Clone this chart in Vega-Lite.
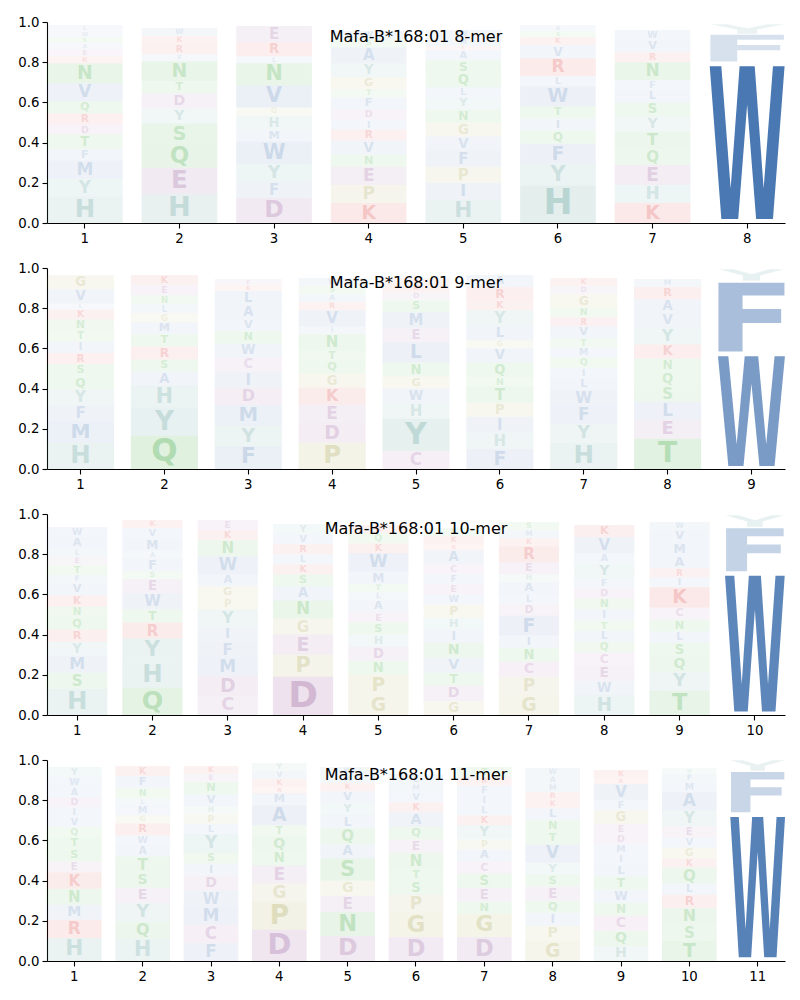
{
"$schema": "https://vega.github.io/schema/vega-lite/v6.json",
"padding": {"left": 17, "top": 15, "right": 5, "bottom": 5},
"config": {
 "view": {"stroke": null},
 "font": "DejaVu Sans",
 "axis": {"domainColor": "#000", "tickColor": "#000", "labelColor": "#000", "labelFont": "DejaVu Sans", "labelFontSize": 13.3, "tickSize": 5, "labelPadding": 3, "grid": false, "title": null, "domainWidth": 1.1, "tickWidth": 1.1},
 "title": {"font": "DejaVu Sans", "fontSize": 16, "fontWeight": "normal", "color": "#000", "anchor": "middle", "frame": "group", "offset": -30, "baseline": "bottom"},
 "scale": {"bandPaddingInner": 0.2, "bandPaddingOuter": 0}
},
"resolve": {"scale": {"shape": "independent", "size": "independent", "opacity": "independent", "x": "independent", "y": "independent"}},
"datasets": {
"k8": [
{"p":1,"a":"H","h":0.13,"r":1},{"p":1,"a":"Y","h":0.09,"r":2},{"p":1,"a":"M","h":0.09,"r":3},{"p":1,"a":"F","h":0.06,"r":4},{"p":1,"a":"T","h":0.07,"r":5},{"p":1,"a":"D","h":0.05,"r":6},{"p":1,"a":"R","h":0.055,"r":7},{"p":1,"a":"Q","h":0.06,"r":8},{"p":1,"a":"V","h":0.09,"r":9},{"p":1,"a":"N","h":0.10,"r":10},{"p":1,"a":"K","h":0.035,"r":11},{"p":1,"a":"E","h":0.035,"r":12},{"p":1,"a":"A","h":0.03,"r":13},{"p":1,"a":"S","h":0.03,"r":14},{"p":1,"a":"W","h":0.03,"r":15},{"p":1,"a":"L","h":0.03,"r":16},
{"p":2,"a":"H","h":0.145,"r":1},{"p":2,"a":"E","h":0.13,"r":2},{"p":2,"a":"Q","h":0.12,"r":3},{"p":2,"a":"S","h":0.10,"r":4},{"p":2,"a":"Y","h":0.075,"r":5},{"p":2,"a":"D","h":0.075,"r":6},{"p":2,"a":"T","h":0.06,"r":7},{"p":2,"a":"N","h":0.10,"r":8},{"p":2,"a":"F","h":0.035,"r":9},{"p":2,"a":"R","h":0.05,"r":10},{"p":2,"a":"K","h":0.04,"r":11},{"p":2,"a":"W","h":0.04,"r":12},
{"p":3,"a":"D","h":0.125,"r":1},{"p":3,"a":"F","h":0.08,"r":2},{"p":3,"a":"Y","h":0.09,"r":3},{"p":3,"a":"W","h":0.11,"r":4},{"p":3,"a":"M","h":0.06,"r":5},{"p":3,"a":"H","h":0.07,"r":6},{"p":3,"a":"G","h":0.04,"r":7},{"p":3,"a":"V","h":0.11,"r":8},{"p":3,"a":"N","h":0.11,"r":9},{"p":3,"a":"L","h":0.035,"r":10},{"p":3,"a":"R","h":0.07,"r":11},{"p":3,"a":"E","h":0.08,"r":12},
{"p":4,"a":"K","h":0.10,"r":1},{"p":4,"a":"P","h":0.09,"r":2},{"p":4,"a":"E","h":0.09,"r":3},{"p":4,"a":"N","h":0.06,"r":4},{"p":4,"a":"V","h":0.07,"r":5},{"p":4,"a":"R","h":0.055,"r":6},{"p":4,"a":"I","h":0.05,"r":7},{"p":4,"a":"D","h":0.05,"r":8},{"p":4,"a":"F","h":0.06,"r":9},{"p":4,"a":"T","h":0.04,"r":10},{"p":4,"a":"G","h":0.06,"r":11},{"p":4,"a":"Y","h":0.07,"r":12},{"p":4,"a":"A","h":0.08,"r":13},{"p":4,"a":"S","h":0.04,"r":14},{"p":4,"a":"W","h":0.04,"r":15},
{"p":5,"a":"H","h":0.115,"r":1},{"p":5,"a":"I","h":0.085,"r":2},{"p":5,"a":"P","h":0.08,"r":3},{"p":5,"a":"F","h":0.08,"r":4},{"p":5,"a":"V","h":0.07,"r":5},{"p":5,"a":"G","h":0.07,"r":6},{"p":5,"a":"N","h":0.065,"r":7},{"p":5,"a":"Y","h":0.06,"r":8},{"p":5,"a":"L","h":0.05,"r":9},{"p":5,"a":"Q","h":0.07,"r":10},{"p":5,"a":"S","h":0.065,"r":11},{"p":5,"a":"A","h":0.05,"r":12},{"p":5,"a":"R","h":0.02,"r":13},{"p":5,"a":"M","h":0.04,"r":14},{"p":5,"a":"W","h":0.04,"r":15},
{"p":6,"a":"H","h":0.185,"r":1},{"p":6,"a":"Y","h":0.11,"r":2},{"p":6,"a":"F","h":0.10,"r":3},{"p":6,"a":"Q","h":0.065,"r":4},{"p":6,"a":"I","h":0.06,"r":5},{"p":6,"a":"T","h":0.06,"r":6},{"p":6,"a":"W","h":0.10,"r":7},{"p":6,"a":"L","h":0.05,"r":8},{"p":6,"a":"R","h":0.09,"r":9},{"p":6,"a":"V","h":0.065,"r":10},{"p":6,"a":"K","h":0.04,"r":11},{"p":6,"a":"S","h":0.03,"r":12},{"p":6,"a":"A","h":0.03,"r":13},
{"p":7,"a":"K","h":0.10,"r":1},{"p":7,"a":"H","h":0.09,"r":2},{"p":7,"a":"E","h":0.10,"r":3},{"p":7,"a":"Q","h":0.08,"r":4},{"p":7,"a":"T","h":0.085,"r":5},{"p":7,"a":"Y","h":0.075,"r":6},{"p":7,"a":"S","h":0.07,"r":7},{"p":7,"a":"L","h":0.06,"r":8},{"p":7,"a":"F","h":0.05,"r":9},{"p":7,"a":"N","h":0.09,"r":10},{"p":7,"a":"R","h":0.05,"r":11},{"p":7,"a":"V","h":0.06,"r":12},{"p":7,"a":"W","h":0.05,"r":13},
{"p":8,"a":"W","h":0.80,"r":1},{"p":8,"a":"F","h":0.14,"r":2},{"p":8,"a":"Y","h":0.05,"r":3}
],
"k9": [
{"p":1,"a":"H","h":0.13,"r":1},{"p":1,"a":"M","h":0.107,"r":2},{"p":1,"a":"F","h":0.08,"r":3},{"p":1,"a":"Y","h":0.08,"r":4},{"p":1,"a":"Q","h":0.065,"r":5},{"p":1,"a":"S","h":0.06,"r":6},{"p":1,"a":"R","h":0.055,"r":7},{"p":1,"a":"I","h":0.057,"r":8},{"p":1,"a":"T","h":0.053,"r":9},{"p":1,"a":"N","h":0.057,"r":10},{"p":1,"a":"K","h":0.05,"r":11},{"p":1,"a":"L","h":0.03,"r":12},{"p":1,"a":"V","h":0.07,"r":13},{"p":1,"a":"G","h":0.07,"r":14},
{"p":2,"a":"Q","h":0.165,"r":1},{"p":2,"a":"Y","h":0.14,"r":2},{"p":2,"a":"H","h":0.11,"r":3},{"p":2,"a":"A","h":0.07,"r":4},{"p":2,"a":"S","h":0.06,"r":5},{"p":2,"a":"R","h":0.065,"r":6},{"p":2,"a":"T","h":0.06,"r":7},{"p":2,"a":"M","h":0.06,"r":8},{"p":2,"a":"G","h":0.045,"r":9},{"p":2,"a":"L","h":0.045,"r":10},{"p":2,"a":"N","h":0.045,"r":11},{"p":2,"a":"E","h":0.05,"r":12},{"p":2,"a":"K","h":0.05,"r":13},
{"p":3,"a":"F","h":0.115,"r":1},{"p":3,"a":"Y","h":0.10,"r":2},{"p":3,"a":"M","h":0.105,"r":3},{"p":3,"a":"D","h":0.085,"r":4},{"p":3,"a":"I","h":0.08,"r":5},{"p":3,"a":"C","h":0.07,"r":6},{"p":3,"a":"W","h":0.07,"r":7},{"p":3,"a":"N","h":0.06,"r":8},{"p":3,"a":"V","h":0.06,"r":9},{"p":3,"a":"A","h":0.07,"r":10},{"p":3,"a":"L","h":0.07,"r":11},{"p":3,"a":"K","h":0.03,"r":12},{"p":3,"a":"E","h":0.03,"r":13},
{"p":4,"a":"P","h":0.13,"r":1},{"p":4,"a":"D","h":0.10,"r":2},{"p":4,"a":"E","h":0.09,"r":3},{"p":4,"a":"K","h":0.085,"r":4},{"p":4,"a":"G","h":0.07,"r":5},{"p":4,"a":"Q","h":0.06,"r":6},{"p":4,"a":"T","h":0.055,"r":7},{"p":4,"a":"N","h":0.08,"r":8},{"p":4,"a":"I","h":0.04,"r":9},{"p":4,"a":"V","h":0.08,"r":10},{"p":4,"a":"R","h":0.04,"r":11},{"p":4,"a":"A","h":0.04,"r":12},{"p":4,"a":"S","h":0.04,"r":13},{"p":4,"a":"W","h":0.04,"r":14},
{"p":5,"a":"C","h":0.09,"r":1},{"p":5,"a":"Y","h":0.16,"r":2},{"p":5,"a":"H","h":0.08,"r":3},{"p":5,"a":"W","h":0.07,"r":4},{"p":5,"a":"G","h":0.06,"r":5},{"p":5,"a":"N","h":0.07,"r":6},{"p":5,"a":"L","h":0.10,"r":7},{"p":5,"a":"E","h":0.07,"r":8},{"p":5,"a":"M","h":0.08,"r":9},{"p":5,"a":"S","h":0.06,"r":10},{"p":5,"a":"D","h":0.04,"r":11},{"p":5,"a":"K","h":0.04,"r":12},{"p":5,"a":"R","h":0.03,"r":13},
{"p":6,"a":"F","h":0.10,"r":1},{"p":6,"a":"H","h":0.08,"r":2},{"p":6,"a":"I","h":0.08,"r":3},{"p":6,"a":"P","h":0.07,"r":4},{"p":6,"a":"T","h":0.08,"r":5},{"p":6,"a":"N","h":0.05,"r":6},{"p":6,"a":"Q","h":0.07,"r":7},{"p":6,"a":"V","h":0.07,"r":8},{"p":6,"a":"G","h":0.04,"r":9},{"p":6,"a":"L","h":0.07,"r":10},{"p":6,"a":"Y","h":0.08,"r":11},{"p":6,"a":"K","h":0.05,"r":12},{"p":6,"a":"R","h":0.065,"r":13},{"p":6,"a":"A","h":0.06,"r":14},
{"p":7,"a":"H","h":0.13,"r":1},{"p":7,"a":"Y","h":0.095,"r":2},{"p":7,"a":"F","h":0.09,"r":3},{"p":7,"a":"W","h":0.08,"r":4},{"p":7,"a":"L","h":0.06,"r":5},{"p":7,"a":"I","h":0.05,"r":6},{"p":7,"a":"Q","h":0.05,"r":7},{"p":7,"a":"M","h":0.05,"r":8},{"p":7,"a":"T","h":0.045,"r":9},{"p":7,"a":"V","h":0.06,"r":10},{"p":7,"a":"R","h":0.045,"r":11},{"p":7,"a":"N","h":0.05,"r":12},{"p":7,"a":"G","h":0.065,"r":13},{"p":7,"a":"D","h":0.04,"r":14},{"p":7,"a":"K","h":0.04,"r":15},
{"p":8,"a":"T","h":0.15,"r":1},{"p":8,"a":"E","h":0.095,"r":2},{"p":8,"a":"L","h":0.09,"r":3},{"p":8,"a":"S","h":0.08,"r":4},{"p":8,"a":"Q","h":0.07,"r":5},{"p":8,"a":"N","h":0.065,"r":6},{"p":8,"a":"K","h":0.07,"r":7},{"p":8,"a":"Y","h":0.085,"r":8},{"p":8,"a":"V","h":0.07,"r":9},{"p":8,"a":"A","h":0.07,"r":10},{"p":8,"a":"R","h":0.06,"r":11},{"p":8,"a":"M","h":0.04,"r":12},
{"p":9,"a":"W","h":0.575,"r":1},{"p":9,"a":"F","h":0.36,"r":2},{"p":9,"a":"Y","h":0.06,"r":3}
],
"k10": [
{"p":1,"a":"H","h":0.13,"r":1},{"p":1,"a":"S","h":0.08,"r":2},{"p":1,"a":"M","h":0.085,"r":3},{"p":1,"a":"Y","h":0.07,"r":4},{"p":1,"a":"R","h":0.06,"r":5},{"p":1,"a":"Q","h":0.06,"r":6},{"p":1,"a":"N","h":0.055,"r":7},{"p":1,"a":"K","h":0.055,"r":8},{"p":1,"a":"V","h":0.06,"r":9},{"p":1,"a":"F","h":0.04,"r":10},{"p":1,"a":"T","h":0.05,"r":11},{"p":1,"a":"E","h":0.04,"r":12},{"p":1,"a":"L","h":0.04,"r":13},{"p":1,"a":"A","h":0.06,"r":14},{"p":1,"a":"W","h":0.05,"r":15},
{"p":2,"a":"Q","h":0.135,"r":1},{"p":2,"a":"H","h":0.13,"r":2},{"p":2,"a":"Y","h":0.115,"r":3},{"p":2,"a":"R","h":0.08,"r":4},{"p":2,"a":"T","h":0.065,"r":5},{"p":2,"a":"W","h":0.08,"r":6},{"p":2,"a":"E","h":0.07,"r":7},{"p":2,"a":"S","h":0.04,"r":8},{"p":2,"a":"F","h":0.065,"r":9},{"p":2,"a":"A","h":0.035,"r":10},{"p":2,"a":"M","h":0.065,"r":11},{"p":2,"a":"V","h":0.05,"r":12},{"p":2,"a":"K","h":0.04,"r":13},
{"p":3,"a":"C","h":0.095,"r":1},{"p":3,"a":"D","h":0.10,"r":2},{"p":3,"a":"M","h":0.09,"r":3},{"p":3,"a":"F","h":0.08,"r":4},{"p":3,"a":"I","h":0.075,"r":5},{"p":3,"a":"Y","h":0.085,"r":6},{"p":3,"a":"P","h":0.055,"r":7},{"p":3,"a":"G","h":0.06,"r":8},{"p":3,"a":"A","h":0.06,"r":9},{"p":3,"a":"W","h":0.09,"r":10},{"p":3,"a":"N","h":0.08,"r":11},{"p":3,"a":"K","h":0.05,"r":12},{"p":3,"a":"E","h":0.05,"r":13},
{"p":4,"a":"D","h":0.19,"r":1},{"p":4,"a":"P","h":0.11,"r":2},{"p":4,"a":"E","h":0.10,"r":3},{"p":4,"a":"G","h":0.08,"r":4},{"p":4,"a":"N","h":0.09,"r":5},{"p":4,"a":"A","h":0.07,"r":6},{"p":4,"a":"S","h":0.06,"r":7},{"p":4,"a":"K","h":0.05,"r":8},{"p":4,"a":"L","h":0.05,"r":9},{"p":4,"a":"R","h":0.05,"r":10},{"p":4,"a":"V","h":0.05,"r":11},{"p":4,"a":"Y","h":0.05,"r":12},
{"p":5,"a":"G","h":0.10,"r":1},{"p":5,"a":"P","h":0.10,"r":2},{"p":5,"a":"N","h":0.07,"r":3},{"p":5,"a":"D","h":0.07,"r":4},{"p":5,"a":"H","h":0.06,"r":5},{"p":5,"a":"S","h":0.06,"r":6},{"p":5,"a":"E","h":0.05,"r":7},{"p":5,"a":"A","h":0.06,"r":8},{"p":5,"a":"L","h":0.04,"r":9},{"p":5,"a":"T","h":0.04,"r":10},{"p":5,"a":"M","h":0.065,"r":11},{"p":5,"a":"W","h":0.09,"r":12},{"p":5,"a":"K","h":0.05,"r":13},{"p":5,"a":"Q","h":0.05,"r":14},{"p":5,"a":"R","h":0.04,"r":15},
{"p":6,"a":"G","h":0.07,"r":1},{"p":6,"a":"D","h":0.075,"r":2},{"p":6,"a":"T","h":0.065,"r":3},{"p":6,"a":"V","h":0.075,"r":4},{"p":6,"a":"N","h":0.075,"r":5},{"p":6,"a":"I","h":0.065,"r":6},{"p":6,"a":"H","h":0.06,"r":7},{"p":6,"a":"P","h":0.065,"r":8},{"p":6,"a":"W","h":0.05,"r":9},{"p":6,"a":"E","h":0.05,"r":10},{"p":6,"a":"F","h":0.05,"r":11},{"p":6,"a":"C","h":0.05,"r":12},{"p":6,"a":"A","h":0.07,"r":13},{"p":6,"a":"R","h":0.03,"r":14},{"p":6,"a":"K","h":0.04,"r":15},{"p":6,"a":"S","h":0.04,"r":16},
{"p":7,"a":"G","h":0.10,"r":1},{"p":7,"a":"P","h":0.09,"r":2},{"p":7,"a":"C","h":0.075,"r":3},{"p":7,"a":"N","h":0.07,"r":4},{"p":7,"a":"I","h":0.06,"r":5},{"p":7,"a":"F","h":0.10,"r":6},{"p":7,"a":"D","h":0.055,"r":7},{"p":7,"a":"L","h":0.05,"r":8},{"p":7,"a":"A","h":0.06,"r":9},{"p":7,"a":"H","h":0.04,"r":10},{"p":7,"a":"E","h":0.06,"r":11},{"p":7,"a":"R","h":0.08,"r":12},{"p":7,"a":"K","h":0.04,"r":13},{"p":7,"a":"M","h":0.04,"r":14},{"p":7,"a":"S","h":0.04,"r":15},
{"p":8,"a":"H","h":0.10,"r":1},{"p":8,"a":"W","h":0.07,"r":2},{"p":8,"a":"E","h":0.075,"r":3},{"p":8,"a":"C","h":0.065,"r":4},{"p":8,"a":"Q","h":0.055,"r":5},{"p":8,"a":"L","h":0.055,"r":6},{"p":8,"a":"T","h":0.05,"r":7},{"p":8,"a":"I","h":0.055,"r":8},{"p":8,"a":"N","h":0.055,"r":9},{"p":8,"a":"D","h":0.05,"r":10},{"p":8,"a":"F","h":0.05,"r":11},{"p":8,"a":"Y","h":0.075,"r":12},{"p":8,"a":"A","h":0.05,"r":13},{"p":8,"a":"V","h":0.08,"r":14},{"p":8,"a":"K","h":0.06,"r":15},
{"p":9,"a":"T","h":0.12,"r":1},{"p":9,"a":"Y","h":0.095,"r":2},{"p":9,"a":"Q","h":0.075,"r":3},{"p":9,"a":"S","h":0.07,"r":4},{"p":9,"a":"L","h":0.055,"r":5},{"p":9,"a":"N","h":0.06,"r":6},{"p":9,"a":"C","h":0.06,"r":7},{"p":9,"a":"K","h":0.10,"r":8},{"p":9,"a":"I","h":0.05,"r":9},{"p":9,"a":"R","h":0.045,"r":10},{"p":9,"a":"A","h":0.065,"r":11},{"p":9,"a":"M","h":0.065,"r":12},{"p":9,"a":"V","h":0.06,"r":13},{"p":9,"a":"W","h":0.04,"r":14},
{"p":10,"a":"W","h":0.71,"r":1},{"p":10,"a":"F","h":0.225,"r":2},{"p":10,"a":"Y","h":0.06,"r":3}
],
"k11": [
{"p":1,"a":"H","h":0.115,"r":1},{"p":1,"a":"R","h":0.09,"r":2},{"p":1,"a":"M","h":0.075,"r":3},{"p":1,"a":"N","h":0.08,"r":4},{"p":1,"a":"K","h":0.08,"r":5},{"p":1,"a":"E","h":0.055,"r":6},{"p":1,"a":"S","h":0.06,"r":7},{"p":1,"a":"T","h":0.06,"r":8},{"p":1,"a":"Q","h":0.05,"r":9},{"p":1,"a":"V","h":0.05,"r":10},{"p":1,"a":"I","h":0.05,"r":11},{"p":1,"a":"D","h":0.05,"r":12},{"p":1,"a":"A","h":0.05,"r":13},{"p":1,"a":"W","h":0.05,"r":14},{"p":1,"a":"Y","h":0.05,"r":15},
{"p":2,"a":"H","h":0.11,"r":1},{"p":2,"a":"Q","h":0.085,"r":2},{"p":2,"a":"Y","h":0.095,"r":3},{"p":2,"a":"E","h":0.075,"r":4},{"p":2,"a":"S","h":0.075,"r":5},{"p":2,"a":"T","h":0.08,"r":6},{"p":2,"a":"A","h":0.055,"r":7},{"p":2,"a":"W","h":0.05,"r":8},{"p":2,"a":"R","h":0.06,"r":9},{"p":2,"a":"G","h":0.04,"r":10},{"p":2,"a":"M","h":0.05,"r":11},{"p":2,"a":"L","h":0.035,"r":12},{"p":2,"a":"N","h":0.05,"r":13},{"p":2,"a":"F","h":0.06,"r":14},{"p":2,"a":"K","h":0.05,"r":15},
{"p":3,"a":"F","h":0.09,"r":1},{"p":3,"a":"C","h":0.09,"r":2},{"p":3,"a":"M","h":0.09,"r":3},{"p":3,"a":"W","h":0.08,"r":4},{"p":3,"a":"D","h":0.075,"r":5},{"p":3,"a":"I","h":0.06,"r":6},{"p":3,"a":"S","h":0.055,"r":7},{"p":3,"a":"Y","h":0.09,"r":8},{"p":3,"a":"L","h":0.05,"r":9},{"p":3,"a":"P","h":0.05,"r":10},{"p":3,"a":"H","h":0.04,"r":11},{"p":3,"a":"V","h":0.06,"r":12},{"p":3,"a":"N","h":0.06,"r":13},{"p":3,"a":"E","h":0.04,"r":14},{"p":3,"a":"K","h":0.04,"r":15},
{"p":4,"a":"D","h":0.155,"r":1},{"p":4,"a":"P","h":0.14,"r":2},{"p":4,"a":"G","h":0.09,"r":3},{"p":4,"a":"E","h":0.09,"r":4},{"p":4,"a":"N","h":0.07,"r":5},{"p":4,"a":"Q","h":0.075,"r":6},{"p":4,"a":"T","h":0.055,"r":7},{"p":4,"a":"A","h":0.10,"r":8},{"p":4,"a":"M","h":0.06,"r":9},{"p":4,"a":"R","h":0.03,"r":10},{"p":4,"a":"K","h":0.04,"r":11},{"p":4,"a":"V","h":0.04,"r":12},{"p":4,"a":"Y","h":0.04,"r":13},
{"p":5,"a":"D","h":0.125,"r":1},{"p":5,"a":"N","h":0.12,"r":2},{"p":5,"a":"E","h":0.08,"r":3},{"p":5,"a":"G","h":0.075,"r":4},{"p":5,"a":"S","h":0.11,"r":5},{"p":5,"a":"A","h":0.07,"r":6},{"p":5,"a":"Q","h":0.08,"r":7},{"p":5,"a":"L","h":0.065,"r":8},{"p":5,"a":"Y","h":0.06,"r":9},{"p":5,"a":"V","h":0.06,"r":10},{"p":5,"a":"K","h":0.04,"r":11},{"p":5,"a":"M","h":0.04,"r":12},{"p":5,"a":"W","h":0.04,"r":13},
{"p":6,"a":"D","h":0.12,"r":1},{"p":6,"a":"G","h":0.12,"r":2},{"p":6,"a":"P","h":0.09,"r":3},{"p":6,"a":"S","h":0.07,"r":4},{"p":6,"a":"T","h":0.06,"r":5},{"p":6,"a":"N","h":0.08,"r":6},{"p":6,"a":"E","h":0.065,"r":7},{"p":6,"a":"Q","h":0.06,"r":8},{"p":6,"a":"A","h":0.075,"r":9},{"p":6,"a":"K","h":0.05,"r":10},{"p":6,"a":"V","h":0.05,"r":11},{"p":6,"a":"M","h":0.04,"r":12},{"p":6,"a":"L","h":0.05,"r":13},
{"p":7,"a":"D","h":0.12,"r":1},{"p":7,"a":"G","h":0.115,"r":2},{"p":7,"a":"N","h":0.06,"r":3},{"p":7,"a":"E","h":0.07,"r":4},{"p":7,"a":"S","h":0.07,"r":5},{"p":7,"a":"C","h":0.06,"r":6},{"p":7,"a":"A","h":0.06,"r":7},{"p":7,"a":"P","h":0.05,"r":8},{"p":7,"a":"Y","h":0.07,"r":9},{"p":7,"a":"K","h":0.05,"r":10},{"p":7,"a":"L","h":0.05,"r":11},{"p":7,"a":"I","h":0.05,"r":12},{"p":7,"a":"F","h":0.05,"r":13},{"p":7,"a":"R","h":0.04,"r":14},{"p":7,"a":"T","h":0.05,"r":15},
{"p":8,"a":"G","h":0.10,"r":1},{"p":8,"a":"P","h":0.075,"r":2},{"p":8,"a":"I","h":0.065,"r":3},{"p":8,"a":"Q","h":0.06,"r":4},{"p":8,"a":"E","h":0.07,"r":5},{"p":8,"a":"S","h":0.06,"r":6},{"p":8,"a":"Y","h":0.06,"r":7},{"p":8,"a":"V","h":0.09,"r":8},{"p":8,"a":"T","h":0.06,"r":9},{"p":8,"a":"N","h":0.06,"r":10},{"p":8,"a":"L","h":0.06,"r":11},{"p":8,"a":"K","h":0.04,"r":12},{"p":8,"a":"R","h":0.04,"r":13},{"p":8,"a":"M","h":0.04,"r":14},{"p":8,"a":"A","h":0.04,"r":15},{"p":8,"a":"W","h":0.04,"r":16},
{"p":9,"a":"H","h":0.075,"r":1},{"p":9,"a":"Q","h":0.075,"r":2},{"p":9,"a":"C","h":0.075,"r":3},{"p":9,"a":"N","h":0.065,"r":4},{"p":9,"a":"W","h":0.065,"r":5},{"p":9,"a":"T","h":0.065,"r":6},{"p":9,"a":"L","h":0.06,"r":7},{"p":9,"a":"I","h":0.05,"r":8},{"p":9,"a":"M","h":0.05,"r":9},{"p":9,"a":"D","h":0.05,"r":10},{"p":9,"a":"E","h":0.05,"r":11},{"p":9,"a":"G","h":0.07,"r":12},{"p":9,"a":"F","h":0.05,"r":13},{"p":9,"a":"V","h":0.08,"r":14},{"p":9,"a":"R","h":0.03,"r":15},{"p":9,"a":"K","h":0.04,"r":16},
{"p":10,"a":"T","h":0.10,"r":1},{"p":10,"a":"S","h":0.08,"r":2},{"p":10,"a":"N","h":0.085,"r":3},{"p":10,"a":"R","h":0.065,"r":4},{"p":10,"a":"L","h":0.055,"r":5},{"p":10,"a":"Q","h":0.08,"r":6},{"p":10,"a":"K","h":0.045,"r":7},{"p":10,"a":"G","h":0.055,"r":8},{"p":10,"a":"V","h":0.05,"r":9},{"p":10,"a":"E","h":0.055,"r":10},{"p":10,"a":"Y","h":0.08,"r":11},{"p":10,"a":"A","h":0.09,"r":12},{"p":10,"a":"M","h":0.05,"r":13},{"p":10,"a":"F","h":0.04,"r":14},{"p":10,"a":"H","h":0.03,"r":15},
{"p":11,"a":"W","h":0.735,"r":1},{"p":11,"a":"F","h":0.21,"r":2},{"p":11,"a":"Y","h":0.055,"r":3}
]
},
"vconcat": [
{"data": {"name": "k8"}, "width": 738, "height": 201, "title": "Mafa-B*168:01 8-mer",
 "transform": [{"stack": "h", "groupby": ["p"], "sort": [{"field": "r"}], "as": ["y0", "y1"]}, {"calculate": "(datum.y0+datum.y1)/2", "as": "ym"}],
 "encoding": {"x": {"field": "p", "type": "ordinal", "axis": {"labelAngle": 0}},
  "color": {"field": "a", "type": "nominal", "legend": null, "scale": {"domain": ["A","I","L","M","F","W","V","K","R","D","E","C","N","Q","S","T","G","P","H","Y"], "range": ["#4a78b2","#4a78b2","#4a78b2","#4a78b2","#4a78b2","#4a78b2","#4a78b2","#d62728","#d62728","#8f4f94","#8f4f94","#9c5aa0","#2ca02c","#2ca02c","#2ca02c","#2ca02c","#9d9a3c","#9d9a3c","#4f9690","#4f9690"]}}},
 "resolve": {"scale": {"opacity": "independent", "size": "independent"}},
 "layer": [
  {"transform": [{"filter": "datum.p != 8"}], "mark": {"type": "bar"}, "encoding": {"y": {"field": "y0", "type": "quantitative", "scale": {"domain": [0, 1], "nice": false}, "axis": {"values": [0, 0.2, 0.4, 0.6, 0.8, 1], "format": ".1f"}}, "y2": {"field": "y1"}, "opacity": {"field": "h", "type": "quantitative", "legend": null, "scale": {"domain": [0, 0.8], "range": [0.03, 0.6], "clamp": true}}}},
  {"transform": [{"filter": "datum.p != 8"}], "mark": {"type": "text", "font": "DejaVu Sans", "fontWeight": "bold", "baseline": "middle"}, "encoding": {"y": {"field": "ym", "type": "quantitative"}, "text": {"field": "a"}, "opacity": {"field": "h", "type": "quantitative", "legend": null, "scale": {"domain": [0, 0.8], "range": [0.06, 1], "clamp": true}}, "size": {"field": "h", "type": "quantitative", "legend": null, "scale": {"domain": [0, 0.25], "range": [0, 47], "clamp": true}}}},
  {"transform": [{"filter": "datum.p == 8"}], "mark": {"type": "point", "filled": true, "strokeWidth": 0}, "encoding": {"y": {"field": "ym", "type": "quantitative"},
   "shape": {"field": "a", "type": "nominal", "legend": null, "scale": {"domain": ["W","F","Y"], "range": ["M-0.49,-1L-0.338,-1L-0.216,0.6L-0.099,-1L0.099,-1L0.216,0.6L0.338,-1L0.49,-1L0.338,1L0.117,1L0,-0.5L-0.117,1L-0.338,1Z", "M-2.75,-1L2.75,-1L2.75,-0.63L-0.743,-0.63L-0.743,-0.24L2.475,-0.24L2.475,0.165L-0.743,0.165L-0.743,1L-2.75,1Z", "M-7.7,-1L-4.235,-1L0,-0.15L4.235,-1L7.7,-1L2.079,0.1L2.079,1L-2.079,1L-2.079,0.1Z"]}},
   "size": {"field": "h", "type": "quantitative", "legend": null, "scale": {"type": "pow", "exponent": 2, "domain": [0, 1], "range": [0, 36462]}},
   "opacity": {"field": "h", "type": "quantitative", "legend": null, "scale": {"domain": [0, 0.8], "range": [0.06, 1], "clamp": true}}}}
 ]},
{"data": {"name": "k9"}, "width": 738, "height": 201, "title": "Mafa-B*168:01 9-mer",
 "transform": [{"stack": "h", "groupby": ["p"], "sort": [{"field": "r"}], "as": ["y0", "y1"]}, {"calculate": "(datum.y0+datum.y1)/2", "as": "ym"}],
 "encoding": {"x": {"field": "p", "type": "ordinal", "axis": {"labelAngle": 0}},
  "color": {"field": "a", "type": "nominal", "legend": null, "scale": {"domain": ["A","I","L","M","F","W","V","K","R","D","E","C","N","Q","S","T","G","P","H","Y"], "range": ["#4a78b2","#4a78b2","#4a78b2","#4a78b2","#4a78b2","#4a78b2","#4a78b2","#d62728","#d62728","#8f4f94","#8f4f94","#9c5aa0","#2ca02c","#2ca02c","#2ca02c","#2ca02c","#9d9a3c","#9d9a3c","#4f9690","#4f9690"]}}},
 "resolve": {"scale": {"opacity": "independent", "size": "independent"}},
 "layer": [
  {"transform": [{"filter": "datum.p != 9"}], "mark": {"type": "bar"}, "encoding": {"y": {"field": "y0", "type": "quantitative", "scale": {"domain": [0, 1], "nice": false}, "axis": {"values": [0, 0.2, 0.4, 0.6, 0.8, 1], "format": ".1f"}}, "y2": {"field": "y1"}, "opacity": {"field": "h", "type": "quantitative", "legend": null, "scale": {"domain": [0, 0.8], "range": [0.03, 0.6], "clamp": true}}}},
  {"transform": [{"filter": "datum.p != 9"}], "mark": {"type": "text", "font": "DejaVu Sans", "fontWeight": "bold", "baseline": "middle"}, "encoding": {"y": {"field": "ym", "type": "quantitative"}, "text": {"field": "a"}, "opacity": {"field": "h", "type": "quantitative", "legend": null, "scale": {"domain": [0, 0.8], "range": [0.06, 1], "clamp": true}}, "size": {"field": "h", "type": "quantitative", "legend": null, "scale": {"domain": [0, 0.25], "range": [0, 47], "clamp": true}}}},
  {"transform": [{"filter": "datum.p == 9"}], "mark": {"type": "point", "filled": true, "strokeWidth": 0}, "encoding": {"y": {"field": "ym", "type": "quantitative"},
   "shape": {"field": "a", "type": "nominal", "legend": null, "scale": {"domain": ["W","F","Y"], "range": ["M-0.61,-1L-0.421,-1L-0.269,0.6L-0.123,-1L0.123,-1L0.269,0.6L0.421,-1L0.61,-1L0.421,1L0.145,1L0,-0.5L-0.145,1L-0.421,1Z", "M-0.96,-1L0.96,-1L0.96,-0.63L-0.259,-0.63L-0.259,-0.24L0.864,-0.24L0.864,0.165L-0.259,0.165L-0.259,1L-0.96,1Z", "M-5.6,-1L-3.08,-1L0,-0.15L3.08,-1L5.6,-1L1.512,0.1L1.512,1L-1.512,1L-1.512,0.1Z"]}},
   "size": {"field": "h", "type": "quantitative", "legend": null, "scale": {"type": "pow", "exponent": 2, "domain": [0, 1], "range": [0, 36462]}},
   "opacity": {"field": "h", "type": "quantitative", "legend": null, "scale": {"domain": [0, 0.8], "range": [0.06, 1], "clamp": true}}}}
 ]},
{"data": {"name": "k10"}, "width": 738, "height": 201, "title": "Mafa-B*168:01 10-mer",
 "transform": [{"stack": "h", "groupby": ["p"], "sort": [{"field": "r"}], "as": ["y0", "y1"]}, {"calculate": "(datum.y0+datum.y1)/2", "as": "ym"}],
 "encoding": {"x": {"field": "p", "type": "ordinal", "axis": {"labelAngle": 0}},
  "color": {"field": "a", "type": "nominal", "legend": null, "scale": {"domain": ["A","I","L","M","F","W","V","K","R","D","E","C","N","Q","S","T","G","P","H","Y"], "range": ["#4a78b2","#4a78b2","#4a78b2","#4a78b2","#4a78b2","#4a78b2","#4a78b2","#d62728","#d62728","#8f4f94","#8f4f94","#9c5aa0","#2ca02c","#2ca02c","#2ca02c","#2ca02c","#9d9a3c","#9d9a3c","#4f9690","#4f9690"]}}},
 "resolve": {"scale": {"opacity": "independent", "size": "independent"}},
 "layer": [
  {"transform": [{"filter": "datum.p != 10"}], "mark": {"type": "bar"}, "encoding": {"y": {"field": "y0", "type": "quantitative", "scale": {"domain": [0, 1], "nice": false}, "axis": {"values": [0, 0.2, 0.4, 0.6, 0.8, 1], "format": ".1f"}}, "y2": {"field": "y1"}, "opacity": {"field": "h", "type": "quantitative", "legend": null, "scale": {"domain": [0, 0.8], "range": [0.03, 0.6], "clamp": true}}}},
  {"transform": [{"filter": "datum.p != 10"}], "mark": {"type": "text", "font": "DejaVu Sans", "fontWeight": "bold", "baseline": "middle"}, "encoding": {"y": {"field": "ym", "type": "quantitative"}, "text": {"field": "a"}, "opacity": {"field": "h", "type": "quantitative", "legend": null, "scale": {"domain": [0, 0.8], "range": [0.06, 1], "clamp": true}}, "size": {"field": "h", "type": "quantitative", "legend": null, "scale": {"domain": [0, 0.25], "range": [0, 47], "clamp": true}}}},
  {"transform": [{"filter": "datum.p == 10"}], "mark": {"type": "point", "filled": true, "strokeWidth": 0}, "encoding": {"y": {"field": "ym", "type": "quantitative"},
   "shape": {"field": "a", "type": "nominal", "legend": null, "scale": {"domain": ["W","F","Y"], "range": ["M-0.44,-1L-0.304,-1L-0.194,0.6L-0.089,-1L0.089,-1L0.194,0.6L0.304,-1L0.44,-1L0.304,1L0.105,1L0,-0.5L-0.105,1L-0.304,1Z", "M-1.34,-1L1.34,-1L1.34,-0.63L-0.362,-0.63L-0.362,-0.24L1.206,-0.24L1.206,0.165L-0.362,0.165L-0.362,1L-1.34,1Z", "M-5.1,-1L-2.805,-1L0,-0.15L2.805,-1L5.1,-1L1.377,0.1L1.377,1L-1.377,1L-1.377,0.1Z"]}},
   "size": {"field": "h", "type": "quantitative", "legend": null, "scale": {"type": "pow", "exponent": 2, "domain": [0, 1], "range": [0, 36462]}},
   "opacity": {"field": "h", "type": "quantitative", "legend": null, "scale": {"domain": [0, 0.8], "range": [0.06, 1], "clamp": true}}}}
 ]},
{"data": {"name": "k11"}, "width": 738, "height": 201, "title": "Mafa-B*168:01 11-mer",
 "transform": [{"stack": "h", "groupby": ["p"], "sort": [{"field": "r"}], "as": ["y0", "y1"]}, {"calculate": "(datum.y0+datum.y1)/2", "as": "ym"}],
 "encoding": {"x": {"field": "p", "type": "ordinal", "axis": {"labelAngle": 0}},
  "color": {"field": "a", "type": "nominal", "legend": null, "scale": {"domain": ["A","I","L","M","F","W","V","K","R","D","E","C","N","Q","S","T","G","P","H","Y"], "range": ["#4a78b2","#4a78b2","#4a78b2","#4a78b2","#4a78b2","#4a78b2","#4a78b2","#d62728","#d62728","#8f4f94","#8f4f94","#9c5aa0","#2ca02c","#2ca02c","#2ca02c","#2ca02c","#9d9a3c","#9d9a3c","#4f9690","#4f9690"]}}},
 "resolve": {"scale": {"opacity": "independent", "size": "independent"}},
 "layer": [
  {"transform": [{"filter": "datum.p != 11"}], "mark": {"type": "bar"}, "encoding": {"y": {"field": "y0", "type": "quantitative", "scale": {"domain": [0, 1], "nice": false}, "axis": {"values": [0, 0.2, 0.4, 0.6, 0.8, 1], "format": ".1f"}}, "y2": {"field": "y1"}, "opacity": {"field": "h", "type": "quantitative", "legend": null, "scale": {"domain": [0, 0.8], "range": [0.03, 0.6], "clamp": true}}}},
  {"transform": [{"filter": "datum.p != 11"}], "mark": {"type": "text", "font": "DejaVu Sans", "fontWeight": "bold", "baseline": "middle"}, "encoding": {"y": {"field": "ym", "type": "quantitative"}, "text": {"field": "a"}, "opacity": {"field": "h", "type": "quantitative", "legend": null, "scale": {"domain": [0, 0.8], "range": [0.06, 1], "clamp": true}}, "size": {"field": "h", "type": "quantitative", "legend": null, "scale": {"domain": [0, 0.25], "range": [0, 47], "clamp": true}}}},
  {"transform": [{"filter": "datum.p == 11"}], "mark": {"type": "point", "filled": true, "strokeWidth": 0}, "encoding": {"y": {"field": "ym", "type": "quantitative"},
   "shape": {"field": "a", "type": "nominal", "legend": null, "scale": {"domain": ["W","F","Y"], "range": ["M-0.39,-1L-0.269,-1L-0.172,0.6L-0.079,-1L0.079,-1L0.172,0.6L0.269,-1L0.39,-1L0.269,1L0.093,1L0,-0.5L-0.093,1L-0.269,1Z", "M-1.33,-1L1.33,-1L1.33,-0.63L-0.359,-0.63L-0.359,-0.24L1.197,-0.24L1.197,0.165L-0.359,0.165L-0.359,1L-1.33,1Z", "M-5.1,-1L-2.805,-1L0,-0.15L2.805,-1L5.1,-1L1.377,0.1L1.377,1L-1.377,1L-1.377,0.1Z"]}},
   "size": {"field": "h", "type": "quantitative", "legend": null, "scale": {"type": "pow", "exponent": 2, "domain": [0, 1], "range": [0, 36462]}},
   "opacity": {"field": "h", "type": "quantitative", "legend": null, "scale": {"domain": [0, 0.8], "range": [0.06, 1], "clamp": true}}}}
 ]}
],
"spacing": 45,
"bounds": "flush"
}
